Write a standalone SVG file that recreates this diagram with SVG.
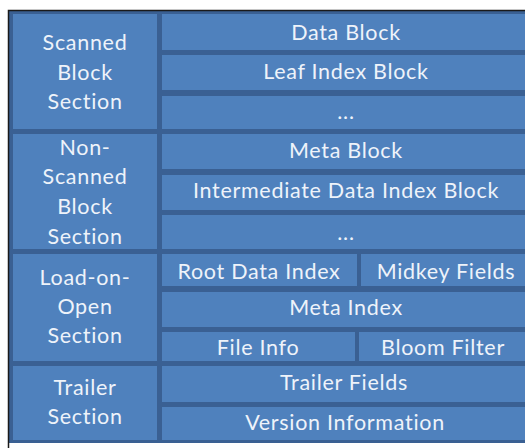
<svg xmlns="http://www.w3.org/2000/svg" width="525" height="448" viewBox="0 0 525 448">
<style>
.bg{fill:#3A6093}
.c{fill:#4F81BD}
.t{font-family:Lato,"Open Sans","Liberation Sans",sans-serif;font-size:21.5px;letter-spacing:0.7px;fill:#EEF3FA;text-anchor:middle}
.f{stroke:#1a1a1a;stroke-width:1.5;fill:none}
</style>
<rect x="0" y="0" width="525" height="448" fill="#ffffff"/>
<rect class="bg" x="9" y="11" width="522" height="432"/>
<path class="f" d="M8.5,448 V10.5 H525"/>
<g id="scanned-section"><rect class="c" x="13" y="14" width="144" height="115"/><text class="t" x="85" y="50">Scanned</text><text class="t" x="85" y="80">Block</text><text class="t" x="85" y="109">Section</text></g>
<g id="nonscanned-section"><rect class="c" x="13" y="134" width="144" height="115"/><text class="t" x="85" y="155">Non-</text><text class="t" x="85" y="184">Scanned</text><text class="t" x="85" y="214">Block</text><text class="t" x="85" y="244">Section</text></g>
<g id="loadonopen-section"><rect class="c" x="13" y="254" width="144" height="107"/><text class="t" x="85" y="285">Load-on-</text><text class="t" x="85" y="314">Open</text><text class="t" x="85" y="343">Section</text></g>
<g id="trailer-section"><rect class="c" x="13" y="366" width="144" height="74"/><text class="t" x="85" y="395">Trailer</text><text class="t" x="85" y="424">Section</text></g>
<g id="data-block"><rect class="c" x="162" y="14" width="369" height="36"/><text class="t" x="346" y="40">Data Block</text></g>
<g id="leaf-index-block"><rect class="c" x="162" y="55" width="369" height="35"/><text class="t" x="346" y="79">Leaf Index Block</text></g>
<g id="scanned-more"><rect class="c" x="162" y="96" width="369" height="33"/><text class="t" x="346" y="119">...</text></g>
<g id="meta-block"><rect class="c" x="162" y="134" width="369" height="35"/><text class="t" x="346" y="158">Meta Block</text></g>
<g id="intermediate-index"><rect class="c" x="162" y="175" width="369" height="35"/><text class="t" x="346" y="198">Intermediate Data Index Block</text></g>
<g id="nonscanned-more"><rect class="c" x="162" y="215" width="369" height="34"/><text class="t" x="346" y="240">...</text></g>
<g id="root-data-index"><rect class="c" x="162" y="254" width="195" height="32"/><text class="t" x="259" y="279">Root Data Index</text></g>
<g id="midkey-fields"><rect class="c" x="361" y="254" width="170" height="32"/><text class="t" x="446" y="279">Midkey Fields</text></g>
<g id="meta-index"><rect class="c" x="162" y="292" width="369" height="35"/><text class="t" x="346" y="315">Meta Index</text></g>
<g id="file-info"><rect class="c" x="162" y="332" width="193" height="29"/><text class="t" x="258" y="355">File Info</text></g>
<g id="bloom-filter"><rect class="c" x="359" y="332" width="172" height="29"/><text class="t" x="443" y="355">Bloom Filter</text></g>
<g id="trailer-fields"><rect class="c" x="162" y="366" width="369" height="36"/><text class="t" x="344" y="390">Trailer Fields</text></g>
<g id="version-information"><rect class="c" x="162" y="407" width="369" height="33"/><text class="t" x="345" y="430">Version Information</text></g>
<g id="connectors"/>
</svg>
